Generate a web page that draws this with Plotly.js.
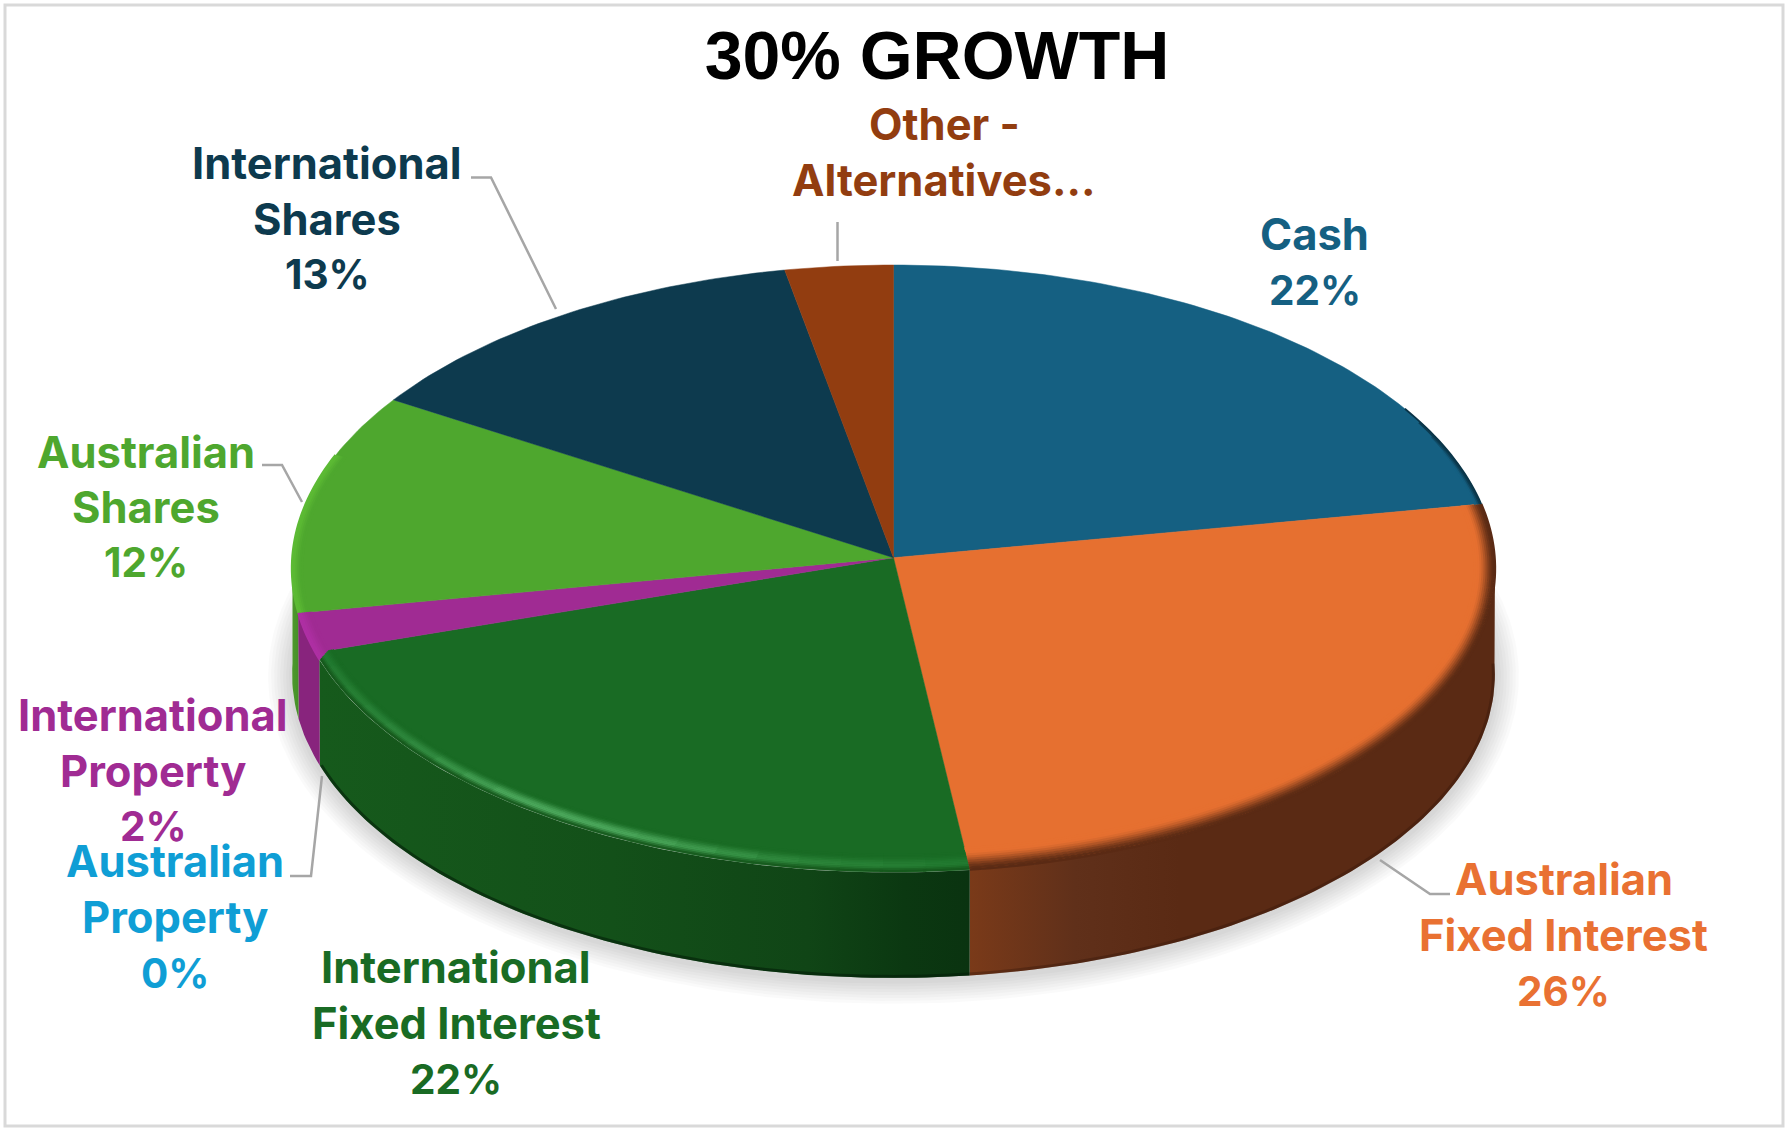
<!DOCTYPE html>
<html><head><meta charset="utf-8">
<script src="https://cdn.plot.ly/plotly-3.0.1.min.js"></script>
<style>html,body{margin:0;padding:0;background:#fff}#chart{width:1792px;height:1136px}</style>
</head><body><div id="chart"></div>
<script>
// ---- data ----
const titleText = '30% GROWTH';
const categories = ['Cash','Australian Fixed Interest','International Fixed Interest','Australian Property','International Property','Australian Shares','International Shares','Other - Alternatives...'];
const values = [22.15, 25.9, 21.95, 0, 2.1, 11.8, 13.1, 3.0];
const labelLines = [['Cash'],['Australian','Fixed Interest'],['International','Fixed Interest'],['Australian','Property'],['International','Property'],['Australian','Shares'],['International','Shares'],['Other -','Alternatives...']];
const showPercent = [true,true,true,true,true,true,true,false];
const faceColors = ['#156082','#E67030','#196B24','#0F9ED5','#A02B93','#4EA72E','#0D3A4E','#923D10'];
const labelColors = ['#156082','#E97132','#196B24','#0F9ED5','#A02B93','#4EA72E','#0D3A4E','#923D10'];
// wall gradient stops per slice: left to right
const wallStops = {
  1:[[0,'#7a3a19'],[0.2,'#60301a'],[0.4,'#5a2a14'],[1,'#5a2a14']],
  2:[[0,'#165a1c'],[0.45,'#135019'],[0.75,'#104516'],[0.9,'#0b3811'],[1,'#0a3310']],
  4:[[0,'#88247d'],[1,'#88247d']],
  5:[[0,'#4c9a2c'],[1,'#478f28']]
};

// ---- layout of the drawing ----
const C = {cx:893.5, cy:557.7, a:303.1, b:601, p:0.0356, depth:106};
const wallJoinDeg = 250.6;   // the bevel pulls the green/purple wall join a little to the right
const labelPos = [[1314.6,[234,290]],[1563.5,[879,935,991]],[456,[967,1023,1079]],[175,[861,917,973]],[153,[714.5,770.5,826.5]],[146,[451.6,506.5,562.5]],[327,[162.5,218.5,274.5]],[944,[123.6,179.6]]];
const labelFontSize = 43.5, percentFontSize = 40.5;
const leaders = [
  [[471,491,556],[177.5,177.5,309]],
  [[837.5,837.5],[222,261]],
  [[262,282,302],[465,465,502]],
  [[290,311,322],[876,876,776]],
  [[1380,1430,1450],[860,894,894]]
];

// ---- helpers ----
function P(deg,d,dz){
  d=d||0;dz=dz||0;
  const t0=deg*Math.PI/180, fu=1-d/C.b, fv=1-d/C.a;
  const t=Math.atan2(Math.sin(t0)*fv,Math.cos(t0)*fu);   // keeps slice borders straight at any inset
  const u=Math.sin(t)*fu, v=Math.cos(t)*fv, den=1+C.p*v;
  return [C.cx+C.b*u/den, C.cy-C.a*v/den+dz];
}
function arc(a,b,d,dz){
  const n=Math.max(2,Math.ceil(Math.abs(b-a)/1));const out=[];
  for(let i=0;i<=n;i++)out.push(P(a+(b-a)*i/n,d,dz));
  return out;
}
function hex2(c){return [1,3,5].map(i=>parseInt(c.substr(i,2),16));}
function mix(c1,c2,w){const a=hex2(c1),b=hex2(c2);return 'rgb('+a.map((x,i)=>Math.round(x+(b[i]-x)*w)).join(',')+')';}
function toHex(rgb){const m=rgb.match(/\d+/g);return '#'+m.map(x=>(+x).toString(16).padStart(2,'0')).join('');}
function smooth(x){x=Math.min(1,Math.max(0,x));return x*x*(3-2*x);}
function lerp(tab,x){
  if(x<=tab[0][0])return tab[0][1];
  for(let i=1;i<tab.length;i++)if(x<=tab[i][0]){const f=(x-tab[i-1][0])/(tab[i][0]-tab[i-1][0]);return tab[i-1][1]+(tab[i][1]-tab[i-1][1])*f;}
  return tab[tab.length-1][1];
}

const total=values.reduce((s,v)=>s+v,0);
const starts=[],ends=[];let acc=0;
values.forEach((v,i)=>{starts.push(acc/total*360);acc+=v;ends.push(acc/total*360);});

const traces=[];
const line=(pts,color,width)=>traces.push({type:'scatter',mode:'lines',x:pts.map(p=>p[0]),y:pts.map(p=>p[1]),line:{color,width,simplify:false},hoverinfo:'skip',showlegend:false});

// soft shadow on the page
for(let d=-24;d<=-3;d+=3){
  const pts=arc(0,360,d,C.depth+(d+24)*0.12);
  traces.push({type:'scatter',mode:'lines',x:pts.map(p=>p[0]),y:pts.map(p=>p[1]),fill:'toself',fillcolor:'rgba(0,0,0,0.018)',line:{width:0},hoverinfo:'skip',showlegend:false});
}

// walls, visible part of each slice only
const visA=90, visB=271;
values.forEach((v,i)=>{
  let a=Math.max(starts[i],visA), b=Math.min(ends[i],visB);
  if(i===2)b=wallJoinDeg;
  if(i===4)a=wallJoinDeg;
  if(v<=0||b<=a||!wallStops[i])return;
  const pts=arc(a,b,-0.5,0).concat(arc(b,a,0,C.depth));
  const stops=wallStops[i];
  traces.push({type:'scatter',mode:'lines',x:pts.map(p=>p[0]),y:pts.map(p=>p[1]),fill:'toself',
    fillgradient:{type:'horizontal',colorscale:stops},fillcolor:stops[0][1],line:{width:0},hoverinfo:'skip',showlegend:false});
});
// dark lower edge of the wall
[[90,ends[1],'rgba(50,20,8,0.35)'],[ends[1],wallJoinDeg,'rgba(3,30,8,0.6)']].forEach(s=>line(arc(s[0],s[1],1.5,C.depth),s[2],3));

// top faces
values.forEach((v,i)=>{
  if(v<=0)return;
  const pts=[[C.cx,C.cy]].concat(arc(starts[i],ends[i],0,0)).concat([[C.cx,C.cy]]);
  traces.push({type:'scatter',mode:'lines',name:categories[i],x:pts.map(p=>p[0]),y:pts.map(p=>p[1]),fill:'toself',fillcolor:faceColors[i],
    line:{color:faceColors[i],width:0.5},hoveron:'fills',text:categories[i]+' '+Math.round(v)+'%',hoverinfo:'text',showlegend:false});
});

// bevel, orange
for(let d=20;d>=0;d-=2){
  line(arc(starts[1],ends[1],d,0),mix('#5a2a14',faceColors[1],smooth(d/17)),2.6);
}
// bevel, cash edge
for(let d=6;d>=0;d-=1.5){line(arc(60+d*2,ends[0],d,0),mix('#0a3447',faceColors[0],smooth(d/5.5)),1.8);}
// bevel, light green
for(let d=10;d>=0;d-=2){line(arc(starts[5],ends[5]-12,d,0),mix('#5CBA34',faceColors[5],smooth(d/9)),2.6);}
// bevel, dark green with a thin highlight that fades along the arc
const hlWeight=[[173,0.1],[190,0.35],[205,0.95],[218,1],[230,0.45],[242,0.22],[252,0.1]];
const stepDeg=4;
for(let d=16;d>=0;d-=1.5){
  for(let t=starts[2];t<ends[2];t+=stepDeg){
    const w=lerp(hlWeight,t+stepDeg/2);
    const hi=toHex(mix('#1C742A','#4CA85C',w));
    let col;
    if(d>=6){col=mix(hi,faceColors[2],smooth((d-6)/9));}
    else {col=mix('#15571b',hi,smooth(d/6));}
    line(arc(t,Math.min(t+stepDeg+0.3,ends[2]),d,0),col,2);
  }
}
// bevel, purple, wraps the corner of the green slice
for(let d=12;d>=0;d-=2){line(arc(wallJoinDeg+d*0.12,ends[4],d,0),mix('#AE2FA3',faceColors[4],smooth(d/11)),2.6);}

// leader lines
leaders.forEach(l=>traces.push({type:'scatter',mode:'lines',x:l[0],y:l[1],line:{color:'#A6A6A6',width:2.5},hoverinfo:'skip',showlegend:false}));

// labels, one annotation per line of text
const annotations=[];
categories.forEach((c,i)=>{
  const rows=labelLines[i].map(t=>[t,labelFontSize]);
  if(showPercent[i])rows.push([Math.round(values[i])+'%',percentFontSize]);
  rows.forEach((r,k)=>annotations.push({text:'<b>'+r[0]+'</b>',x:labelPos[i][0],y:labelPos[i][1][k],xref:'x',yref:'y',xanchor:'center',yanchor:'middle',showarrow:false,
    font:{family:'Inter, "Noto Sans", sans-serif',size:r[1],color:labelColors[i]}}));
});

const layout={
  width:1792,height:1136,margin:{l:0,r:0,t:0,b:0,pad:0},paper_bgcolor:'#fff',plot_bgcolor:'#fff',showlegend:false,
  title:{text:'<b>'+titleText+'</b>',x:937/1792,xref:'paper',xanchor:'center',y:1-55/1136,yref:'paper',yanchor:'middle',font:{family:'"Liberation Sans", Arial, sans-serif',size:68,color:'#000'}},
  xaxis:{range:[0,1792],visible:false,fixedrange:true},
  yaxis:{range:[1136,0],visible:false,fixedrange:true},
  annotations,
  shapes:[{type:'rect',xref:'x',yref:'y',x0:5,x1:1783,y0:5,y1:1126,line:{color:'#D9D9D9',width:3},layer:'below'}]
};
Plotly.newPlot('chart',traces,layout,{displayModeBar:false,responsive:false});
</script></body></html>
